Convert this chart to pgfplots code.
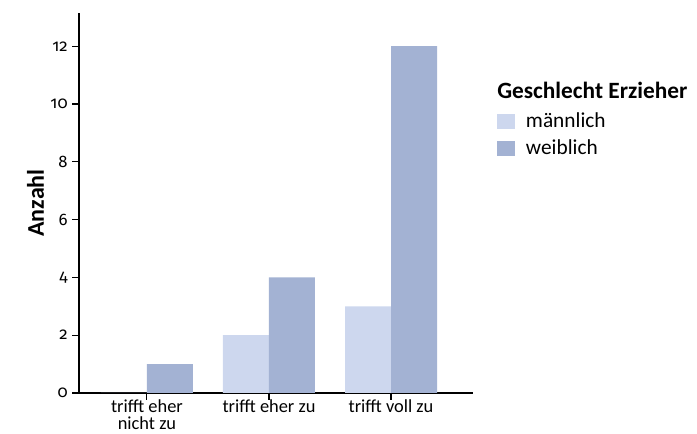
\documentclass[border=0pt]{standalone}
\usepackage{pgfplots}
\pgfplotsset{compat=1.18}
\usepackage{fontspec}
\setmainfont{Carlito}
\newfontfamily\numfont[Numbers=OldStyle]{Fira Sans}
\definecolor{mcol}{HTML}{CDD7EE}
\definecolor{wcol}{HTML}{A3B2D3}
\begin{document}
\begin{tikzpicture}
\useasboundingbox (-59.25pt,-30.75pt) rectangle (463.5pt,294.75pt);
\begin{axis}[
  scale only axis,
  width=295.5pt, height=285pt,
  xmin=-0.557, xmax=2.672,
  ymin=0, ymax=13.15,
  axis lines*=left,
  axis line style={line width=0.8pt},
  tick style={line width=0.8pt, black},
  tick align=outside,
  major tick length=5pt,
  ybar=0pt, bar width=34.5pt,
  ytick={0,2,4,6,8,10,12},
  xtick={0,1,2},
  xticklabels={{trifft eher\\nicht zu},{trifft eher zu},{trifft voll zu}},
  xticklabel style={align=center, font=\fontsize{13.8}{12.3}\selectfont, yshift=1pt, inner ysep=1pt},
  yticklabel style={font=\numfont\fontsize{12.5}{14}\selectfont},
  /pgf/number format/assume math mode=true,
  ylabel={\textbf{Anzahl}},
  ylabel style={font=\fontsize{18}{18}\selectfont, yshift=-2pt},
  legend style={draw=none, fill=none, at={(rel axis cs:1.061,0.745)}, anchor=north west,
    font=\fontsize{16}{16}\selectfont, row sep=3.5pt, inner sep=0pt},
  legend cell align=left,
  legend image code/.code={\fill[#1] (0pt,-5.6pt) rectangle (13.5pt,5.6pt); \path (19.5pt,0pt);},
  clip=false,
]
\addplot[fill=mcol, draw=none] coordinates {(0,0) (1,2) (2,3)};
\addplot[fill=wcol, draw=none] coordinates {(0,1) (1,4) (2,12)};
\legend{männlich, weiblich}
\node[anchor=base west, font=\bfseries\fontsize{17.5}{17.5}\selectfont, inner sep=0pt] at (rel axis cs:1.061,0.775) {Geschlecht Erzieher};
\end{axis}
\end{tikzpicture}
\end{document}
